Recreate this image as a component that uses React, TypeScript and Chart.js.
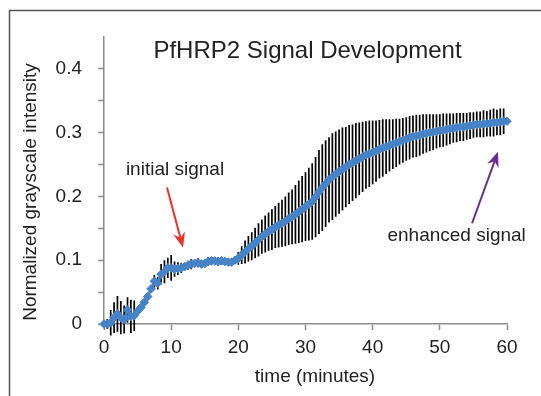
import React, { useEffect, useRef } from 'react';
import { Chart, registerables } from 'chart.js';

Chart.register(...registerables);

const chartTitle = 'PfHRP2 Signal Development';
const xAxisTitle = 'time (minutes)';
const yAxisTitle = 'Normalized grayscale intensity';

const minutes = [
  0, 0.5, 1, 1.5, 2, 2.5, 3, 3.5, 4, 4.5,
  5, 5.5, 6, 6.5, 7, 7.5, 8, 8.5, 9, 9.5,
  10, 10.5, 11, 11.5, 12, 12.5, 13, 13.5, 14, 14.5,
  15, 15.5, 16, 16.5, 17, 17.5, 18, 18.5, 19, 19.5,
  20, 20.5, 21, 21.5, 22, 22.5, 23, 23.5, 24, 24.5,
  25, 25.5, 26, 26.5, 27, 27.5, 28, 28.5, 29, 29.5,
  30, 30.5, 31, 31.5, 32, 32.5, 33, 33.5, 34, 34.5,
  35, 35.5, 36, 36.5, 37, 37.5, 38, 38.5, 39, 39.5,
  40, 40.5, 41, 41.5, 42, 42.5, 43, 43.5, 44, 44.5,
  45, 45.5, 46, 46.5, 47, 47.5, 48, 48.5, 49, 49.5,
  50, 50.5, 51, 51.5, 52, 52.5, 53, 53.5, 54, 54.5,
  55, 55.5, 56, 56.5, 57, 57.5, 58, 58.5, 59, 59.5,
  60,
];

const meanIntensity = [
  0.000, 0.000, 0.002, 0.010, 0.016, 0.010, 0.007, 0.022, 0.012, 0.013,
  0.020, 0.026, 0.034, 0.043, 0.055, 0.067, 0.064, 0.078, 0.082, 0.088,
  0.088, 0.086, 0.087, 0.088, 0.090, 0.092, 0.094, 0.095, 0.096, 0.094,
  0.095, 0.098, 0.099, 0.099, 0.098, 0.099, 0.098, 0.097, 0.097, 0.100,
  0.103, 0.108, 0.113, 0.118, 0.122, 0.127, 0.132, 0.137, 0.141, 0.145,
  0.148, 0.152, 0.155, 0.158, 0.161, 0.165, 0.168, 0.172, 0.176, 0.180,
  0.184, 0.188, 0.192, 0.199, 0.207, 0.214, 0.220, 0.226, 0.231, 0.235,
  0.239, 0.243, 0.246, 0.250, 0.253, 0.256, 0.259, 0.262, 0.265, 0.267,
  0.269, 0.271, 0.274, 0.276, 0.278, 0.280, 0.282, 0.284, 0.286, 0.288,
  0.290, 0.292, 0.294, 0.295, 0.296, 0.298, 0.299, 0.300, 0.301, 0.302,
  0.303, 0.304, 0.305, 0.306, 0.307, 0.308, 0.309, 0.309, 0.310, 0.311,
  0.312, 0.313, 0.313, 0.314, 0.314, 0.315, 0.316, 0.316, 0.317, 0.318,
  0.318,
];

const errorIntensity = [
  0.004, 0.008, 0.020, 0.024, 0.028, 0.026, 0.022, 0.020, 0.026, 0.024,
  0.006, 0.004, 0.004, 0.005, 0.006, 0.010, 0.010, 0.016, 0.018, 0.016,
  0.020, 0.012, 0.010, 0.008, 0.006, 0.007, 0.008, 0.006, 0.007, 0.006,
  0.006, 0.007, 0.006, 0.006, 0.007, 0.006, 0.006, 0.005, 0.006, 0.006,
  0.010, 0.014, 0.018, 0.020, 0.022, 0.024, 0.026, 0.027, 0.029, 0.030,
  0.032, 0.033, 0.035, 0.037, 0.039, 0.041, 0.043, 0.046, 0.049, 0.052,
  0.054, 0.057, 0.060, 0.063, 0.066, 0.068, 0.068, 0.067, 0.068, 0.067,
  0.066, 0.065, 0.063, 0.062, 0.060, 0.059, 0.057, 0.055, 0.053, 0.052,
  0.050, 0.048, 0.046, 0.045, 0.043, 0.041, 0.039, 0.038, 0.036, 0.035,
  0.034, 0.034, 0.033, 0.033, 0.032, 0.031, 0.030, 0.029, 0.028, 0.027,
  0.026, 0.026, 0.025, 0.024, 0.023, 0.023, 0.022, 0.022, 0.021, 0.021,
  0.020, 0.020, 0.020, 0.021, 0.020, 0.021, 0.022, 0.020, 0.021, 0.020,
  0.000,
];

const xMin = 0;
const xMax = 60;
const xStep = 10;
const yMin = 0;
const yMax = 0.45;
const yStep = 0.05;

// annotations in data coordinates: [minutes, intensity]
const initialLabel = { text: 'initial signal', at: [10.57, 0.242] };
const initialArrow = { from: [9.38, 0.214], to: [11.76, 0.12] };
const enhancedLabel = { text: 'enhanced signal', at: [52.5, 0.139] };
const enhancedArrow = { from: [54.8, 0.158], to: [58.66, 0.27] };

const FONT = '"Liberation Sans", Arial, Helvetica, sans-serif';
const TEXT = '#222222';
const AXIS = '#8c8c8c';
const BLUE = '#4683C7';

function drawArrow(ctx: CanvasRenderingContext2D, x1: number, y1: number, x2: number, y2: number, color: string) {
  const ang = Math.atan2(y2 - y1, x2 - x1);
  const headLen = 15;
  const headHalf = 6;
  const bx = x2 - Math.cos(ang) * headLen;
  const by = y2 - Math.sin(ang) * headLen;
  ctx.save();
  ctx.strokeStyle = color;
  ctx.fillStyle = color;
  ctx.lineWidth = 2;
  ctx.beginPath();
  ctx.moveTo(x1, y1);
  ctx.lineTo(x2 - Math.cos(ang) * 8, y2 - Math.sin(ang) * 8);
  ctx.stroke();
  ctx.beginPath();
  ctx.moveTo(x2, y2);
  ctx.lineTo(bx + Math.sin(ang) * headHalf, by - Math.cos(ang) * headHalf);
  ctx.lineTo(x2 - Math.cos(ang) * 10, y2 - Math.sin(ang) * 10);
  ctx.lineTo(bx - Math.sin(ang) * headHalf, by + Math.cos(ang) * headHalf);
  ctx.closePath();
  ctx.fill();
  ctx.restore();
}

const errorBarPlugin = {
  id: 'errorBars',
  beforeDatasetsDraw(chart: any) {
    const { ctx, scales } = chart;
    const x = scales.x;
    const y = scales.y;
    ctx.save();
    ctx.strokeStyle = '#000000';
    ctx.lineWidth = 1.7;
    ctx.beginPath();
    minutes.forEach((t, i) => {
      const e = errorIntensity[i];
      if (!e) return;
      const px = x.getPixelForValue(t);
      ctx.moveTo(px, y.getPixelForValue(meanIntensity[i] + e));
      ctx.lineTo(px, y.getPixelForValue(meanIntensity[i] - e));
    });
    ctx.stroke();
    ctx.restore();
  },
};

const decorPlugin = {
  id: 'decor',
  afterDraw(chart: any) {
    const { ctx, scales } = chart;
    const x = scales.x;
    const y = scales.y;
    ctx.save();
    // outer frame (top and left edges)
    ctx.strokeStyle = '#555555';
    ctx.lineWidth = 1.5;
    ctx.beginPath();
    ctx.moveTo(9.5, 396);
    ctx.lineTo(9.5, 10.5);
    ctx.lineTo(541, 10.5);
    ctx.stroke();

    // chart title
    ctx.fillStyle = TEXT;
    ctx.font = `24px ${FONT}`;
    ctx.textAlign = 'center';
    ctx.textBaseline = 'alphabetic';
    ctx.fillText(chartTitle, 307.5, 58);

    // axis titles
    ctx.font = `19px ${FONT}`;
    ctx.textBaseline = 'middle';
    ctx.fillText(xAxisTitle, 315, 377);
    ctx.save();
    ctx.translate(31, 192);
    ctx.rotate(-Math.PI / 2);
    ctx.fillText(yAxisTitle, 0, 0);
    ctx.restore();

    // annotations
    ctx.fillText(initialLabel.text, x.getPixelForValue(initialLabel.at[0]), y.getPixelForValue(initialLabel.at[1]));
    ctx.fillText(enhancedLabel.text, x.getPixelForValue(enhancedLabel.at[0]), y.getPixelForValue(enhancedLabel.at[1]));
    drawArrow(
      ctx,
      x.getPixelForValue(initialArrow.from[0]), y.getPixelForValue(initialArrow.from[1]),
      x.getPixelForValue(initialArrow.to[0]), y.getPixelForValue(initialArrow.to[1]),
      '#EE3124'
    );
    drawArrow(
      ctx,
      x.getPixelForValue(enhancedArrow.from[0]), y.getPixelForValue(enhancedArrow.from[1]),
      x.getPixelForValue(enhancedArrow.to[0]), y.getPixelForValue(enhancedArrow.to[1]),
      '#6A2C91'
    );
    ctx.restore();
  },
};

export default function App() {
  const canvasRef = useRef<HTMLCanvasElement | null>(null);

  useEffect(() => {
    const canvas = canvasRef.current;
    if (!canvas) return;
    const points = minutes.map((t, i) => ({ x: t, y: meanIntensity[i] }));
    const chart = new Chart(canvas, {
      type: 'line',
      data: {
        datasets: [
          {
            data: points,
            borderColor: BLUE,
            backgroundColor: BLUE,
            borderWidth: 2.5,
            pointStyle: 'rectRot',
            pointRadius: 4.3,
            pointBorderWidth: 1,
            pointBackgroundColor: BLUE,
            pointBorderColor: BLUE,
            tension: 0,
            clip: false as any,
          },
        ],
      },
      options: {
        responsive: false,
        animation: false,
        devicePixelRatio: 1,
        layout: { padding: { left: 0, right: 34, top: 37, bottom: 0 } },
        plugins: {
          legend: { display: false },
          title: { display: false },
          tooltip: { enabled: false },
        },
        scales: {
          x: {
            type: 'linear',
            min: xMin,
            max: xMax,
            afterFit: (s: any) => {
              s.height = 72;
            },
            ticks: {
              stepSize: xStep,
              padding: 6,
              color: TEXT,
              font: { family: FONT, size: 19 },
              maxRotation: 0,
            },
            grid: {
              drawOnChartArea: false,
              drawTicks: true,
              tickLength: 6,
              tickColor: AXIS,
              tickWidth: 1.5,
            },
            border: { display: true, color: AXIS, width: 1.5 },
          },
          y: {
            type: 'linear',
            min: yMin,
            max: yMax,
            afterFit: (s: any) => {
              s.width = 104;
            },
            ticks: {
              stepSize: yStep,
              padding: 16,
              color: TEXT,
              font: { family: FONT, size: 19 },
              callback: (value: any) => {
                const v = Math.round(Number(value) * 100);
                if (v % 10 !== 0) return '';
                return String(v / 100);
              },
            },
            grid: {
              drawOnChartArea: false,
              drawTicks: true,
              tickLength: 6,
              tickWidth: 1.5,
              tickColor: (c: any) =>
                c.tick && Math.round(c.tick.value * 100) === 45 ? 'rgba(0,0,0,0)' : AXIS,
            },
            border: { display: true, color: AXIS, width: 1.5 },
          },
        },
      },
      plugins: [errorBarPlugin, decorPlugin],
    });
    return () => chart.destroy();
  }, []);

  return (
    <div style={{ position: 'absolute', left: 0, top: 0, width: 541, height: 396, background: '#fff' }}>
      <canvas ref={canvasRef} width={541} height={396} style={{ display: 'block' }} />
    </div>
  );
}
